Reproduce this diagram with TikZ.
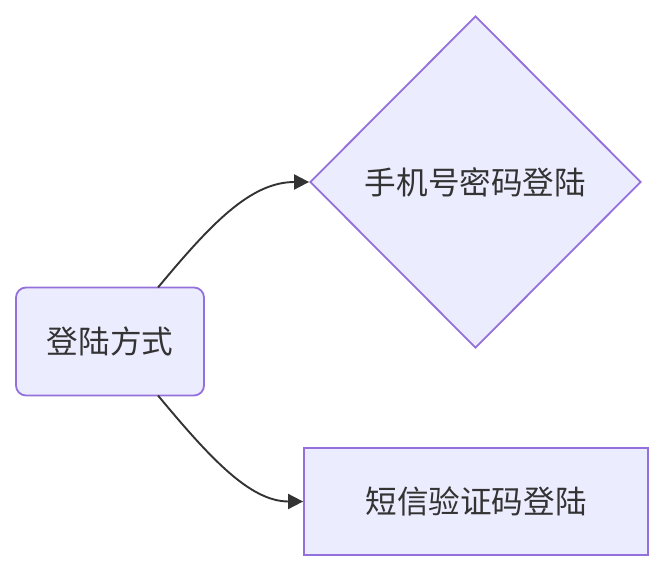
\documentclass[tikz,border=0pt]{standalone}
\usepackage{fontspec}
\newfontfamily\cjk{Noto Sans CJK SC}
\usetikzlibrary{shapes.geometric,arrows.meta}
\definecolor{nodefill}{HTML}{ECECFF}
\definecolor{nodeline}{HTML}{9370DB}
\definecolor{txt}{HTML}{333333}
\tikzset{
  base/.style={draw=nodeline, fill=nodefill, line width=1.8pt, text=txt, font=\cjk\fontsize{31.6}{36}\selectfont, inner sep=0pt},
  roundbox/.style={base, rounded corners=10pt, minimum width=188pt, minimum height=108pt},
  plainbox/.style={base, minimum width=344pt, minimum height=107pt},
  decision/.style={base, diamond, aspect=1, minimum width=331pt, minimum height=332pt},
  link/.style={draw=txt, line width=1.9pt, -{Triangle[length=15pt,width=15pt]}}
}
\begin{document}
\begin{tikzpicture}[x=1pt,y=-1pt]
\useasboundingbox (0,0) rectangle (672,580);
\node[roundbox] (a) at (110,341.5) {登陆方式};
\node[decision] (b) at (475.5,182) {手机号密码登陆};
\node[plainbox] (c) at (476,501.5) {短信验证码登陆};
\coordinate (a1) at (158,287.5);
\coordinate (a2) at (158,395.5);
\draw[link] (a1) .. controls (210,225) and (250,182) .. (b.west);
\draw[link] (a2) .. controls (210,458) and (250,501.5) .. (c.west);
\end{tikzpicture}
\end{document}
